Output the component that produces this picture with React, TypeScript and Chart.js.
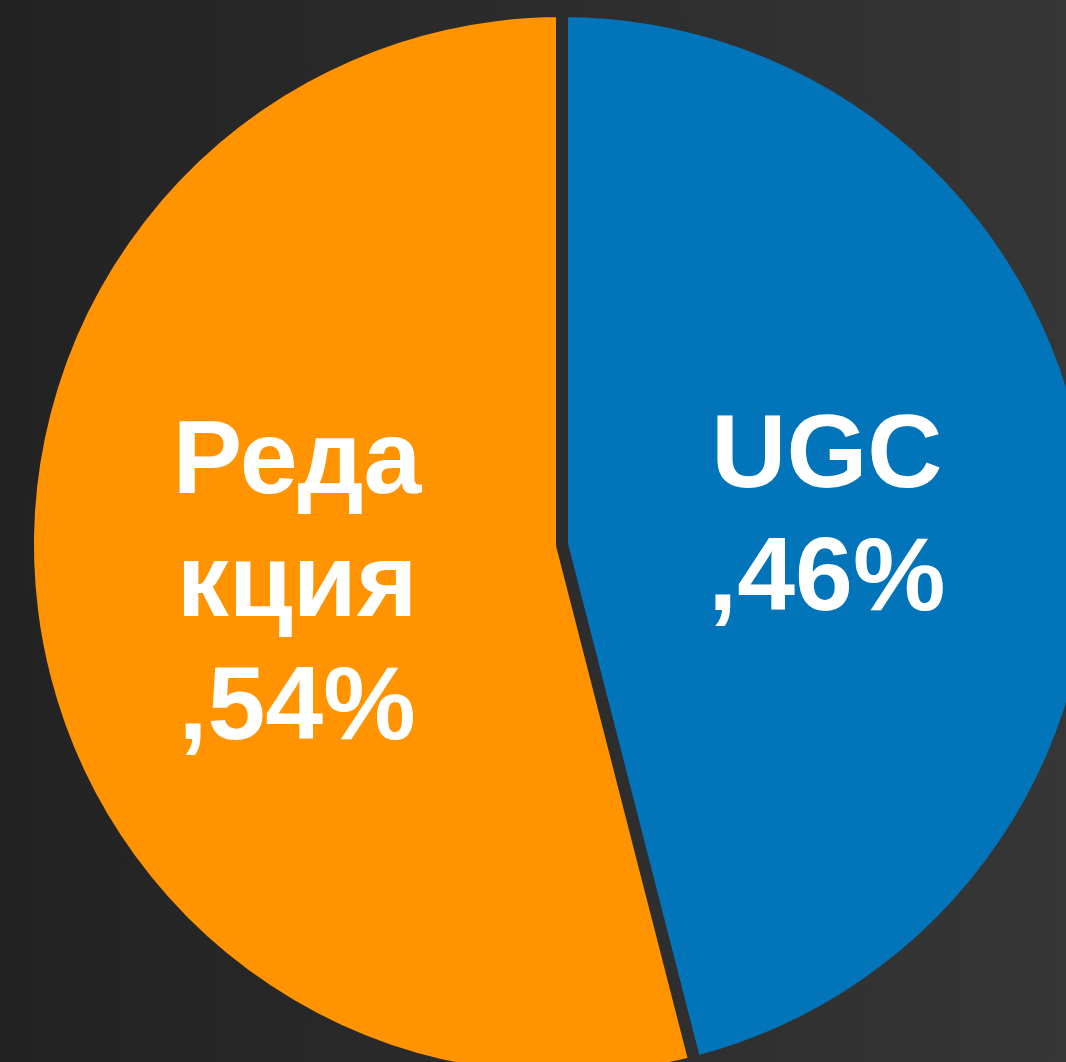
import React, { useEffect, useRef } from "react";
import { Chart, registerables } from "chart.js";

Chart.register(...registerables);

const categories = ["UGC", "Редакция"];
const values = [46, 54];
const labelLines = [
  ["UGC", ",46%"],
  ["Реда", "кция", ",54%"],
];

const PAGE_W = 1066;
const PAGE_H = 1062;
const CX = 562;
const CY = 545;
const SIZE = 1160;
const LEFT = CX - SIZE / 2;
const TOP = CY - SIZE / 2;
const COLORS = ["#0174BA", "#FF9300"];
const BG_LEFT = "#222222";
const BG_RIGHT = "#363636";

const labelPlugin = {
  id: "sliceLabels",
  afterDatasetsDraw(chart: any) {
    const ctx = chart.ctx;
    const meta = chart.getDatasetMeta(0);
    const fontSize = 104;
    const lineH = 123;
    const cap = fontSize * 0.716;
    ctx.save();
    ctx.fillStyle = "#ffffff";
    ctx.font = `bold ${fontSize}px "Liberation Sans", Arial, sans-serif`;
    ctx.textAlign = "center";
    ctx.textBaseline = "alphabetic";
    meta.data.forEach((arc: any, i: number) => {
      const p = arc.tooltipPosition(false);
      const lines = labelLines[i] || [];
      const n = lines.length;
      lines.forEach((t: string, k: number) => {
        const y = p.y + (k - (n - 1) / 2) * lineH + cap / 2;
        ctx.fillText(t, p.x, y);
      });
    });
    ctx.restore();
  },
};

export default function App() {
  const ref = useRef<HTMLCanvasElement>(null);
  useEffect(() => {
    if (!ref.current) return;
    let grad: CanvasGradient | null = null;
    const chart = new Chart(ref.current, {
      type: "pie",
      data: {
        labels: categories,
        datasets: [
          {
            data: values,
            backgroundColor: COLORS,
            borderColor: (c: any) => {
              if (!grad) {
                grad = c.chart.ctx.createLinearGradient(-LEFT, 0, PAGE_W - LEFT, 0);
                grad!.addColorStop(0, BG_LEFT);
                grad!.addColorStop(1, BG_RIGHT);
              }
              return grad;
            },
            borderWidth: 12,
            borderAlign: "center",
            hoverOffset: 0,
          } as any,
        ],
      },
      options: {
        responsive: false,
        animation: false,
        radius: 534,
        layout: { padding: 0 },
        plugins: {
          legend: { display: false },
          tooltip: { enabled: false },
        },
        events: [],
      } as any,
      plugins: [labelPlugin],
    });
    return () => chart.destroy();
  }, []);

  return (
    <div
      style={{
        position: "fixed",
        left: 0,
        top: 0,
        width: PAGE_W,
        height: PAGE_H,
        overflow: "hidden",
        background: `linear-gradient(to right, ${BG_LEFT}, ${BG_RIGHT})`,
      }}
    >
      <canvas
        ref={ref}
        width={SIZE}
        height={SIZE}
        style={{ position: "absolute", left: LEFT, top: TOP, width: SIZE, height: SIZE }}
      />
    </div>
  );
}
